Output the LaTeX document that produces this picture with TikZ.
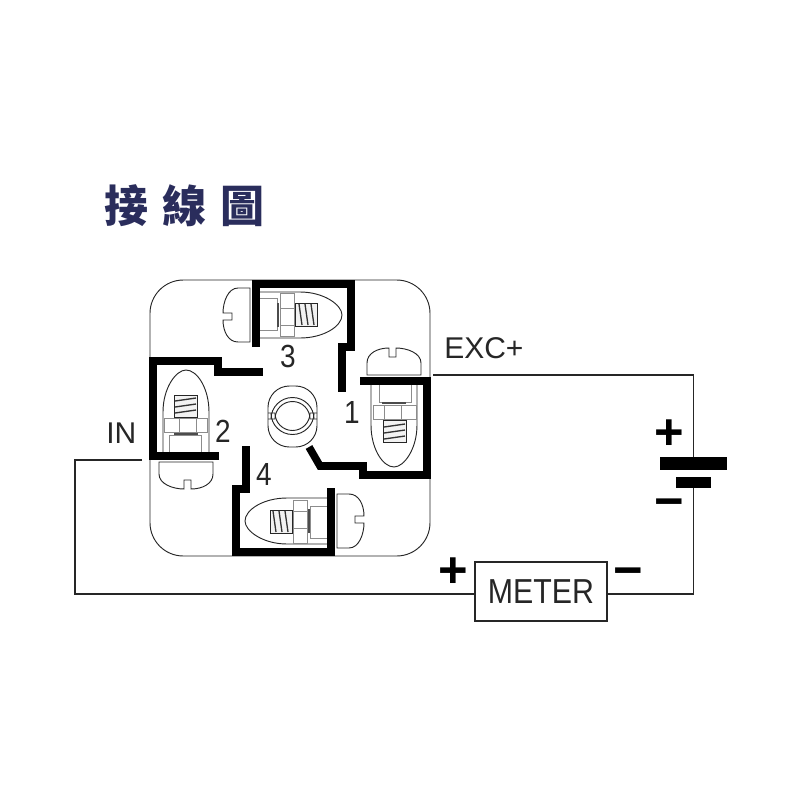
\documentclass[tikz,border=0pt]{standalone}
\usepackage{fontspec}
\setmainfont{Liberation Sans}
\newfontfamily\cjkfont{Noto Sans CJK TC}
\definecolor{titleblue}{RGB}{42,45,92}
\newcommand{\narrowtext}[1]{\scalebox{0.875}[1]{#1}}
\tikzset{
	wall/.style={line width=5.7pt,black,line join=miter},
	wire/.style={line width=0.9pt,black!85},
	thin part/.style={line width=0.7pt,black!85},
	pale part/.style={line width=0.7pt,black!45},
	numlabel/.style={font=\fontsize{24}{24}\selectfont,inner sep=0pt,black!85},
	wirelabel/.style={font=\fontsize{22.5}{24}\selectfont,inner sep=0pt,black!85},
	signlabel/.style={font=\bfseries\fontsize{38}{38}\selectfont,inner sep=0pt,black},
	titlelabel/.style={font=\cjkfont\bfseries\fontsize{33}{34}\selectfont,inner sep=0pt,text=titleblue},
	plate/.style={fill=black,draw=none,inner sep=0pt},
	terminal/.pic={
		% screw head
		\draw[thin part] (-6,-27)--(-18,-27) .. controls (-28,-27) and (-33,-13) .. (-33,-2)
			--(-24,-2)--(-24,5)--(-33,5) .. controls (-33,16) and (-28,27) .. (-18,27)--(-6,27)--cycle;
		% bullet
		\draw[thin part] (3,-23)--(44,-23) .. controls (68,-23) and (86,-10) .. (86,0)
			.. controls (86,11) and (68,23) .. (44,23)--(3,23);
		% plate, nut
		\draw[pale part] (3,-17)--(21,-17)--(21,15)--(3,15);
		\draw[pale part] (24,-22) rectangle (38,21);
		\draw[pale part] (24,-7)--(38,-7);
		\draw[pale part] (24,10)--(38,10);
		\draw[line width=1.5pt,black!70] (22,-12)--(22,12);
		% spring
		\draw[thin part,fill=black!5] (39,-12) rectangle (61,11);
		\draw[line width=1pt,black!80] (43,-11)--(46,10);
		\draw[line width=1pt,black!80] (49,-11)--(52,10);
		\draw[line width=1pt,black!80] (55,-11)--(58,10);
	}
}
\begin{document}
\begin{tikzpicture}[x=0.75pt,y=-0.75pt]
	\useasboundingbox (0,0) rectangle (800,800);
	% title
	\node[titlelabel] (titlea) at (126,206) {接};
	\node[titlelabel] (titleb) at (184,206) {線};
	\node[titlelabel] (titlec) at (242,206) {圖};
	% housing
	\draw[thin part,rounded corners=25pt] (150,280) rectangle (430,556);
	% terminals
	\pic at (256,315) {terminal};
	\pic[rotate=-90] at (394,381) {terminal};
	\pic[rotate=90] at (186,456) {terminal};
	\pic[rotate=180] at (331,521) {terminal};
	% walls
	\draw[wall] (256,347)--(256,284)--(351,284)--(351,347)--(342,347)--(342,392);
	\draw[wall] (219,456)--(153,456)--(153,361)--(218,361)--(218,372)--(263,372);
	\draw[wall] (360,381)--(427,381)--(427,475)--(363,475)--(363,466)--(320,466)--(309,447);
	\draw[wall] (246,446)--(246,489)--(236,489)--(236,552)--(331,552)--(331,488);
	% coil
	\draw[thin part,rounded corners=16pt] (268,386) rectangle (317,447);
	\draw[thin part] (268,413)--(275,413) arc (180:0:17.5)--(317,413);
	\draw[thin part] (268,419)--(275,419) arc (180:360:17.5)--(317,419);
	\draw[thin part] (271,413) arc (180:0:21.5);
	\draw[thin part] (271,419) arc (180:360:21.5);
	% numbers
	\node[numlabel] (num1) at (352,412) {\narrowtext{1}};
	\node[numlabel] (num2) at (223,431) {\narrowtext{2}};
	\node[numlabel] (num3) at (288,356) {\narrowtext{3}};
	\node[numlabel] (num4) at (264,474) {\narrowtext{4}};
	\node[wirelabel,anchor=west] (exc) at (444,348) {EXC+};
	\node[wirelabel,anchor=west] (in) at (106,433) {IN};
	% battery, meter
	\node[plate,minimum width=50.2pt,minimum height=9.8pt] (platelong) at (693.5,463.5) {};
	\node[plate,minimum width=26.2pt,minimum height=8pt] (plateshort) at (693.5,482.5) {};
	\node[draw,wire,inner sep=0pt,minimum width=99pt,minimum height=44.2pt,font=\fontsize{26}{26}\selectfont] (meter) at (541,591.5) {\narrowtext{METER}};
	\node[signlabel] (plusbat) at (669,435) {+};
	\node[signlabel] (minusbat) at (669,509) {−};
	\node[signlabel] (plusmeter) at (453,573) {+};
	\node[signlabel] (minusmeter) at (628,578) {−};
	% wires
	\coordinate (excend) at (433,375);
	\coordinate (inend) at (142,460);
	\coordinate (incorner) at (75,460);
	\draw[wire] (excend) -| (platelong.north);
	\draw[wire] (plateshort.south) |- ([yshift=-1.9pt]meter.east);
	\draw[wire] (inend)--(incorner) |- ([yshift=-1.9pt]meter.west);
\end{tikzpicture}
\end{document}
